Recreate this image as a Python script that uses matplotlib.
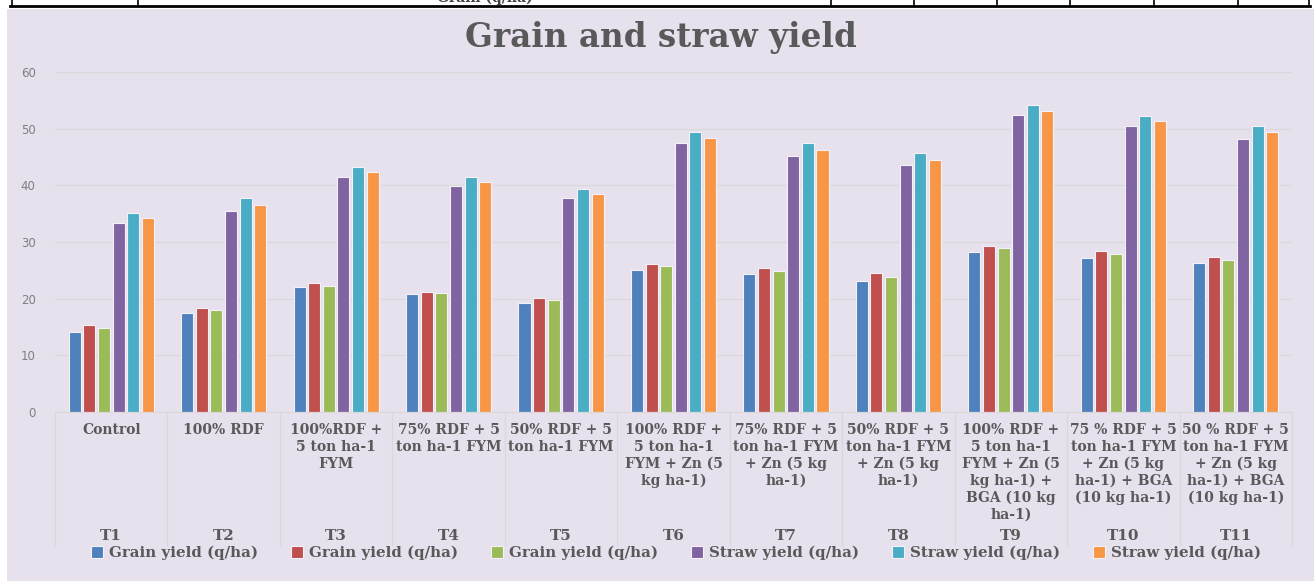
import matplotlib
matplotlib.use("Agg")
import matplotlib.pyplot as plt
import numpy as np
from matplotlib.patches import Rectangle
from matplotlib.lines import Line2D

codes = ["T1", "T2", "T3", "T4", "T5", "T6", "T7", "T8", "T9", "T10", "T11"]
treatments = [
    "Control",
    "100% RDF",
    "100%RDF +\n5 ton ha-1\nFYM",
    "75% RDF + 5\nton ha-1 FYM",
    "50% RDF + 5\nton ha-1 FYM",
    "100% RDF +\n5 ton ha-1\nFYM + Zn (5\nkg ha-1)",
    "75% RDF + 5\nton ha-1 FYM\n+ Zn (5 kg\nha-1)",
    "50% RDF + 5\nton ha-1 FYM\n+ Zn (5 kg\nha-1)",
    "100% RDF +\n5 ton ha-1\nFYM + Zn (5\nkg ha-1) +\nBGA (10 kg\nha-1)",
    "75 % RDF + 5\nton ha-1 FYM\n+ Zn (5 kg\nha-1) + BGA\n(10 kg ha-1)",
    "50 % RDF + 5\nton ha-1 FYM\n+ Zn (5 kg\nha-1) + BGA\n(10 kg ha-1)",
]
series_labels = ["Grain yield (q/ha)"] * 3 + ["Straw yield (q/ha)"] * 3
grain_1 = [14.2, 17.5, 22.1, 20.8, 19.3, 25.0, 24.3, 23.2, 28.3, 27.2, 26.3]
grain_2 = [15.4, 18.3, 22.8, 21.1, 20.1, 26.2, 25.4, 24.6, 29.3, 28.5, 27.3]
grain_3 = [14.8, 18.0, 22.3, 21.0, 19.8, 25.7, 24.9, 23.8, 28.9, 27.9, 26.8]
straw_1 = [33.4, 35.4, 41.5, 39.8, 37.8, 47.4, 45.2, 43.6, 52.4, 50.4, 48.2]
straw_2 = [35.1, 37.8, 43.3, 41.5, 39.3, 49.5, 47.5, 45.7, 54.1, 52.2, 50.4]
straw_3 = [34.2, 36.6, 42.3, 40.6, 38.5, 48.3, 46.3, 44.5, 53.2, 51.3, 49.4]
series = [grain_1, grain_2, grain_3, straw_1, straw_2, straw_3]
colors = ["#4F81BD", "#C0504D", "#9BBB59", "#8064A2", "#4BACC6", "#F79646"]

W, H = 1314, 581
fig = plt.figure(figsize=(W / 100, H / 100), dpi=100, facecolor="white")
bg = "#E7E1EE"
fig.add_artist(Rectangle((7 / W, 0), 1 - 7 / W, (H - 9) / H, transform=fig.transFigure,
                         facecolor=bg, edgecolor="none", zorder=-10))

# bits of the table row above the chart
fig.add_artist(Line2D([10 / W, 1310 / W], [1 - 6 / H, 1 - 6 / H], color="black", lw=2))
for xv in [12, 138, 831, 914, 997, 1070, 1154, 1238, 1309]:
    fig.add_artist(Line2D([xv / W, xv / W], [1 - 6 / H, 1.0], color="black", lw=1.2))
fig.text(485 / W, 1 + 2 / H, "Grain (q/ha)", ha="center", va="center", fontsize=10,
         family="DejaVu Serif", weight="bold", color="#404040")

serif = "DejaVu Serif"
gray = "#595959"

ax = fig.add_axes([55 / W, (H - 412) / H, (1292 - 55) / W, (412 - 72) / H])
ax.patch.set_visible(False)
x = np.arange(len(codes))
step, width = 0.13, 0.107
for i, (vals, c) in enumerate(zip(series, colors)):
    ax.bar(x + (i - 2.5) * step, vals, width, color=c, edgecolor="#F4F2F8", linewidth=0.8,
           label=series_labels[i], zorder=3)

ax.set_xlim(-0.5, len(codes) - 0.5)
ax.set_ylim(0, 60)
ax.set_yticks(range(0, 61, 10))
ax.set_xticks([])
ax.tick_params(axis="y", length=0, pad=14, labelsize=8.5, labelcolor="#7F7F7F")
ax.grid(axis="y", color="#D9D9D9", lw=0.9, zorder=0)
for s in ["top", "right", "left"]:
    ax.spines[s].set_visible(False)
ax.spines["bottom"].set_color("#D9D9D9")
ax.spines["bottom"].set_zorder(4)

axh = 412 - 72
for b in np.arange(-0.5, len(codes), 1.0):
    ax.add_line(Line2D([b, b], [0, -133 / axh], transform=ax.get_xaxis_transform(),
                       color="#D9D9D9", lw=0.9, clip_on=False))
for xi, (t, code) in enumerate(zip(treatments, codes)):
    ax.text(xi, -11 / axh, t, transform=ax.get_xaxis_transform(), ha="center", va="top",
            fontsize=10, family=serif, weight="bold", color=gray, linespacing=1.25)
    ax.text(xi, -124 / axh, code, transform=ax.get_xaxis_transform(), ha="center", va="center",
            fontsize=11, family=serif, weight="bold", color=gray)

fig.text(661 / W, 1 - 38 / H, "Grain and straw yield", ha="center", va="center",
         fontsize=23.5, family=serif, weight="bold", color=gray)

fig.legend(loc="center", bbox_to_anchor=(676 / W, 1 - 553 / H), ncol=6, frameon=False,
           prop={"family": serif, "weight": "bold", "size": 10.8}, labelcolor=gray,
           handlelength=0.8, handleheight=0.8, handletextpad=0.4, columnspacing=2.2)

fig.savefig("out.png", dpi=100, facecolor="white")
